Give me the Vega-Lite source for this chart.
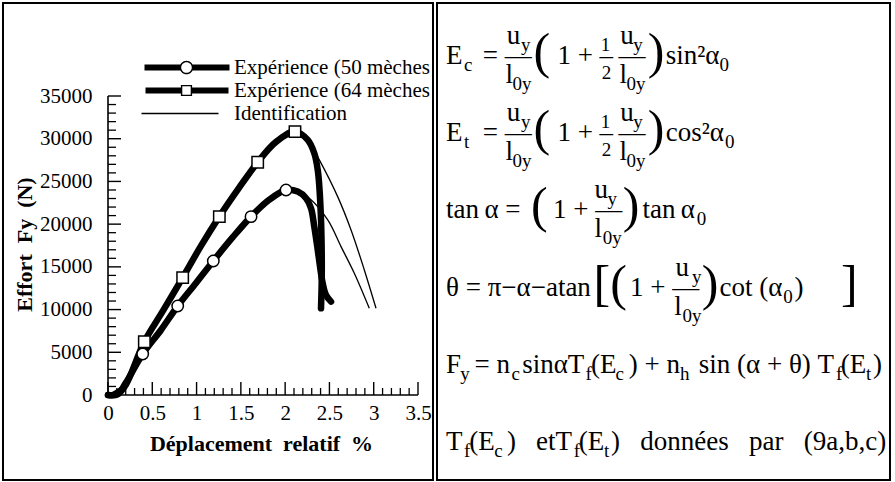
{
  "$schema": "https://vega.github.io/schema/vega-lite/v6.json",
  "background": "white",
  "padding": {"left": 2, "top": 2, "right": 0, "bottom": 0},
  "bounds": "flush",
  "spacing": 4,
  "config": {
    "view": {"stroke": "black", "strokeWidth": 2},
    "font": "Liberation Serif"
  },
  "datasets": {
    "courbes": [
      {"serie": "Expérience (64 mèches", "essai": "64", "i": 0, "depl": 0, "effort": 0},
      {"serie": "Expérience (64 mèches", "essai": "64", "i": 1, "depl": 0.11, "effort": 100},
      {"serie": "Expérience (64 mèches", "essai": "64", "i": 2, "depl": 0.2, "effort": 1170},
      {"serie": "Expérience (64 mèches", "essai": "64", "i": 3, "depl": 0.41, "effort": 6240},
      {"serie": "Expérience (64 mèches", "essai": "64", "i": 4, "depl": 0.62, "effort": 9840},
      {"serie": "Expérience (64 mèches", "essai": "64", "i": 5, "depl": 0.843, "effort": 13740},
      {"serie": "Expérience (64 mèches", "essai": "64", "i": 6, "depl": 1.05, "effort": 17450},
      {"serie": "Expérience (64 mèches", "essai": "64", "i": 7, "depl": 1.257, "effort": 20880},
      {"serie": "Expérience (64 mèches", "essai": "64", "i": 8, "depl": 1.479, "effort": 24240},
      {"serie": "Expérience (64 mèches", "essai": "64", "i": 9, "depl": 1.69, "effort": 27250},
      {"serie": "Expérience (64 mèches", "essai": "64", "i": 10, "depl": 1.897, "effort": 29630},
      {"serie": "Expérience (64 mèches", "essai": "64", "i": 11, "depl": 2.111, "effort": 30830},
      {"serie": "Expérience (64 mèches", "essai": "64", "i": 12, "depl": 2.255, "effort": 29860},
      {"serie": "Expérience (64 mèches", "essai": "64", "i": 13, "depl": 2.329, "effort": 28300},
      {"serie": "Expérience (64 mèches", "essai": "64", "i": 14, "depl": 2.368, "effort": 26350},
      {"serie": "Expérience (64 mèches", "essai": "64", "i": 15, "depl": 2.386, "effort": 24390},
      {"serie": "Expérience (64 mèches", "essai": "64", "i": 16, "depl": 2.405, "effort": 20490},
      {"serie": "Expérience (64 mèches", "essai": "64", "i": 17, "depl": 2.413, "effort": 16590},
      {"serie": "Expérience (64 mèches", "essai": "64", "i": 18, "depl": 2.413, "effort": 13470},
      {"serie": "Expérience (64 mèches", "essai": "64", "i": 19, "depl": 2.405, "effort": 10150},
      {"serie": "Expérience (50 mèches", "essai": "50", "i": 0, "depl": 0, "effort": 0},
      {"serie": "Expérience (50 mèches", "essai": "50", "i": 1, "depl": 0.11, "effort": 100},
      {"serie": "Expérience (50 mèches", "essai": "50", "i": 2, "depl": 0.2, "effort": 1400},
      {"serie": "Expérience (50 mèches", "essai": "50", "i": 3, "depl": 0.392, "effort": 4800},
      {"serie": "Expérience (50 mèches", "essai": "50", "i": 4, "depl": 0.598, "effort": 7610},
      {"serie": "Expérience (50 mèches", "essai": "50", "i": 5, "depl": 0.787, "effort": 10420},
      {"serie": "Expérience (50 mèches", "essai": "50", "i": 6, "depl": 0.994, "effort": 13115},
      {"serie": "Expérience (50 mèches", "essai": "50", "i": 7, "depl": 1.189, "effort": 15690},
      {"serie": "Expérience (50 mèches", "essai": "50", "i": 8, "depl": 1.411, "effort": 18500},
      {"serie": "Expérience (50 mèches", "essai": "50", "i": 9, "depl": 1.615, "effort": 20880},
      {"serie": "Expérience (50 mèches", "essai": "50", "i": 10, "depl": 1.818, "effort": 22830},
      {"serie": "Expérience (50 mèches", "essai": "50", "i": 11, "depl": 2.01, "effort": 24000},
      {"serie": "Expérience (50 mèches", "essai": "50", "i": 12, "depl": 2.142, "effort": 23810},
      {"serie": "Expérience (50 mèches", "essai": "50", "i": 13, "depl": 2.236, "effort": 23030},
      {"serie": "Expérience (50 mèches", "essai": "50", "i": 14, "depl": 2.292, "effort": 21860},
      {"serie": "Expérience (50 mèches", "essai": "50", "i": 15, "depl": 2.329, "effort": 19710},
      {"serie": "Expérience (50 mèches", "essai": "50", "i": 16, "depl": 2.368, "effort": 16980},
      {"serie": "Expérience (50 mèches", "essai": "50", "i": 17, "depl": 2.394, "effort": 15020},
      {"serie": "Expérience (50 mèches", "essai": "50", "i": 18, "depl": 2.424, "effort": 13080},
      {"serie": "Expérience (50 mèches", "essai": "50", "i": 19, "depl": 2.461, "effort": 11710},
      {"serie": "Expérience (50 mèches", "essai": "50", "i": 20, "depl": 2.518, "effort": 10930},
      {"serie": "Identification", "essai": "64", "i": 0, "depl": 0, "effort": 0},
      {"serie": "Identification", "essai": "64", "i": 1, "depl": 0.2, "effort": 1170},
      {"serie": "Identification", "essai": "64", "i": 2, "depl": 0.41, "effort": 6240},
      {"serie": "Identification", "essai": "64", "i": 3, "depl": 0.843, "effort": 13740},
      {"serie": "Identification", "essai": "64", "i": 4, "depl": 1.257, "effort": 20880},
      {"serie": "Identification", "essai": "64", "i": 5, "depl": 1.69, "effort": 27250},
      {"serie": "Identification", "essai": "64", "i": 6, "depl": 1.897, "effort": 29630},
      {"serie": "Identification", "essai": "64", "i": 7, "depl": 2.111, "effort": 30830},
      {"serie": "Identification", "essai": "64", "i": 8, "depl": 2.255, "effort": 29860},
      {"serie": "Identification", "essai": "64", "i": 9, "depl": 2.386, "effort": 27520},
      {"serie": "Identification", "essai": "64", "i": 10, "depl": 2.593, "effort": 23220},
      {"serie": "Identification", "essai": "64", "i": 11, "depl": 2.744, "effort": 19320},
      {"serie": "Identification", "essai": "64", "i": 12, "depl": 2.894, "effort": 14640},
      {"serie": "Identification", "essai": "64", "i": 13, "depl": 3.026, "effort": 10150},
      {"serie": "Identification", "essai": "50", "i": 0, "depl": 0, "effort": 0},
      {"serie": "Identification", "essai": "50", "i": 1, "depl": 0.2, "effort": 1400},
      {"serie": "Identification", "essai": "50", "i": 2, "depl": 0.392, "effort": 4800},
      {"serie": "Identification", "essai": "50", "i": 3, "depl": 0.787, "effort": 10420},
      {"serie": "Identification", "essai": "50", "i": 4, "depl": 1.189, "effort": 15690},
      {"serie": "Identification", "essai": "50", "i": 5, "depl": 1.615, "effort": 20880},
      {"serie": "Identification", "essai": "50", "i": 6, "depl": 2.01, "effort": 24000},
      {"serie": "Identification", "essai": "50", "i": 7, "depl": 2.142, "effort": 23810},
      {"serie": "Identification", "essai": "50", "i": 8, "depl": 2.273, "effort": 23030},
      {"serie": "Identification", "essai": "50", "i": 9, "depl": 2.481, "effort": 20490},
      {"serie": "Identification", "essai": "50", "i": 10, "depl": 2.631, "effort": 17370},
      {"serie": "Identification", "essai": "50", "i": 11, "depl": 2.781, "effort": 14250},
      {"serie": "Identification", "essai": "50", "i": 12, "depl": 2.95, "effort": 10150}
    ],
    "mesures": [
      {"essai": "50", "depl": 0.392, "effort": 4800},
      {"essai": "50", "depl": 0.787, "effort": 10420},
      {"essai": "50", "depl": 1.189, "effort": 15690},
      {"essai": "50", "depl": 1.615, "effort": 20880},
      {"essai": "50", "depl": 2.01, "effort": 24000},
      {"essai": "64", "depl": 0.41, "effort": 6240},
      {"essai": "64", "depl": 0.843, "effort": 13740},
      {"essai": "64", "depl": 1.257, "effort": 20880},
      {"essai": "64", "depl": 1.69, "effort": 27250},
      {"essai": "64", "depl": 2.111, "effort": 30830}
    ],
    "graduationsX": [
      {"depl": 0, "effort": 0}, {"depl": 0.1, "effort": 0}, {"depl": 0.2, "effort": 0}, {"depl": 0.3, "effort": 0},
      {"depl": 0.4, "effort": 0}, {"depl": 0.5, "effort": 0}, {"depl": 0.6, "effort": 0}, {"depl": 0.7, "effort": 0},
      {"depl": 0.8, "effort": 0}, {"depl": 0.9, "effort": 0}, {"depl": 1, "effort": 0}, {"depl": 1.1, "effort": 0},
      {"depl": 1.2, "effort": 0}, {"depl": 1.3, "effort": 0}, {"depl": 1.4, "effort": 0}, {"depl": 1.5, "effort": 0},
      {"depl": 1.6, "effort": 0}, {"depl": 1.7, "effort": 0}, {"depl": 1.8, "effort": 0}, {"depl": 1.9, "effort": 0},
      {"depl": 2, "effort": 0}, {"depl": 2.1, "effort": 0}, {"depl": 2.2, "effort": 0}, {"depl": 2.3, "effort": 0},
      {"depl": 2.4, "effort": 0}, {"depl": 2.5, "effort": 0}, {"depl": 2.6, "effort": 0}, {"depl": 2.7, "effort": 0},
      {"depl": 2.8, "effort": 0}, {"depl": 2.9, "effort": 0}, {"depl": 3, "effort": 0}, {"depl": 3.1, "effort": 0},
      {"depl": 3.2, "effort": 0}, {"depl": 3.3, "effort": 0}, {"depl": 3.4, "effort": 0}, {"depl": 3.5, "effort": 0}
    ],
    "graduationsY": [
      {"depl": 0, "effort": 0}, {"depl": 0, "effort": 1000}, {"depl": 0, "effort": 2000}, {"depl": 0, "effort": 3000},
      {"depl": 0, "effort": 4000}, {"depl": 0, "effort": 5000}, {"depl": 0, "effort": 6000}, {"depl": 0, "effort": 7000},
      {"depl": 0, "effort": 8000}, {"depl": 0, "effort": 9000}, {"depl": 0, "effort": 10000}, {"depl": 0, "effort": 11000},
      {"depl": 0, "effort": 12000}, {"depl": 0, "effort": 13000}, {"depl": 0, "effort": 14000}, {"depl": 0, "effort": 15000},
      {"depl": 0, "effort": 16000}, {"depl": 0, "effort": 17000}, {"depl": 0, "effort": 18000}, {"depl": 0, "effort": 19000},
      {"depl": 0, "effort": 20000}, {"depl": 0, "effort": 21000}, {"depl": 0, "effort": 22000}, {"depl": 0, "effort": 23000},
      {"depl": 0, "effort": 24000}, {"depl": 0, "effort": 25000}, {"depl": 0, "effort": 26000}, {"depl": 0, "effort": 27000},
      {"depl": 0, "effort": 28000}, {"depl": 0, "effort": 29000}, {"depl": 0, "effort": 30000}, {"depl": 0, "effort": 31000},
      {"depl": 0, "effort": 32000}, {"depl": 0, "effort": 33000}, {"depl": 0, "effort": 34000}, {"depl": 0, "effort": 35000}
    ],
    "equations": [
      {
        "n": 1,
        "principal": "E\u2002\u00a0=\u00a0\u2014\u2002\u00a0\u20091\u00a0+\u00a0\u2013\u2009\u2014\u2002\u00a0sin\u00b2\u03b1",
        "num": "\u200b\u2003\u2003\u00a0u\u2003\u2003\u2003\u2002\u2009u",
        "den": "\u200b\u2003\u2003\u2009l\u2003\u2003\u2003\u2002\u00a0\u2009l",
        "ind": "\u200b\u2002\u00a0\u2009c\u2003\u2003\u2003\u2003\u2003\u2003\u2003\u2003\u2003\u2003\u2003\u2003\u20030",
        "indNum": "\u200b\u2003\u2003\u2003\u2002\u00a0\u2009y\u2003\u2003\u2003\u2002\u20091\u2003\u2009y",
        "indDen": "\u200b\u2003\u2003\u2003\u20020y\u2003\u2003\u2003\u2003\u20030y",
        "demi": "\u200b\u2003\u2003\u2003\u2003\u2003\u2003\u2003\u2003\u20092",
        "grand": "\u200b\u2003\u2002\u00a0(\u2003\u2002\u00a0\u2009)"
      },
      {
        "n": 2,
        "principal": "E\u2002\u00a0=\u00a0\u2014\u2002\u00a0\u20091\u00a0+\u00a0\u2013\u2009\u2014\u2002\u00a0cos\u00b2\u03b1",
        "num": "\u200b\u2003\u2003\u00a0u\u2003\u2003\u2003\u2002\u2009u",
        "den": "\u200b\u2003\u2003\u2009l\u2003\u2003\u2003\u2002\u00a0\u2009l",
        "ind": "\u200b\u2002\u00a0\u2009t\u2003\u2003\u2003\u2003\u2003\u2003\u2003\u2003\u2003\u2003\u2003\u2003\u2003\u00a0\u20090",
        "indNum": "\u200b\u2003\u2003\u2003\u2002\u00a0\u2009y\u2003\u2003\u2003\u2002\u20091\u2003\u2009y",
        "indDen": "\u200b\u2003\u2003\u2003\u20020y\u2003\u2003\u2003\u2003\u20030y",
        "demi": "\u200b\u2003\u2003\u2003\u2003\u2003\u2003\u2003\u2003\u20092",
        "grand": "\u200b\u2003\u2002\u00a0(\u2003\u2002\u00a0\u2009)"
      },
      {
        "n": 3,
        "principal": "tan\u2009\u03b1\u00a0=\u2003\u20091\u00a0+\u00a0\u2014\u2002\u00a0tan\u2009\u03b1",
        "num": "\u200b\u2003\u2003\u2003\u2003\u2003\u2002u",
        "den": "\u200b\u2003\u2003\u2003\u2003\u2003\u2002l",
        "ind": "\u200b\u2003\u2003\u2003\u2003\u2003\u2003\u2003\u2003\u2003\u2003\u2003\u2003\u2003\u20090",
        "indNum": "\u200b\u2003\u2003\u2003\u2003\u2003\u2003\u2003\u2003\u2002y",
        "indDen": "\u200b\u2003\u2003\u2003\u2003\u2003\u2003\u2003\u2003\u00a00y",
        "demi": "",
        "grand": "\u200b\u2003\u2002\u2009(\u2003\u2002)"
      },
      {
        "n": 4,
        "principal": "\u03b8\u00a0=\u00a0\u03c0\u2212\u03b1\u2212atan\u2003\u00a0\u20091\u00a0+\u00a0\u2014\u2002\u00a0cot\u00a0(\u03b1\u00a0\u2009)",
        "num": "\u200b\u2003\u2003\u2003\u2003\u2003\u2003\u2003\u2003\u2002u",
        "den": "\u200b\u2003\u2003\u2003\u2003\u2003\u2003\u2003\u2003\u00a0\u2009l",
        "ind": "\u200b\u2003\u2003\u2003\u2003\u2003\u2003\u2003\u2003\u2003\u2003\u2003\u2003\u2003\u2003\u2003\u2003\u2003\u2002\u00a00",
        "indNum": "\u200b\u2003\u2003\u2003\u2003\u2003\u2003\u2003\u2003\u2003\u2003\u2003\u2003\u2002\u00a0\u2009y",
        "indDen": "\u200b\u2003\u2003\u2003\u2003\u2003\u2003\u2003\u2003\u2003\u2003\u2003\u2003\u00a0\u20090y",
        "demi": "",
        "grand": "\u200b\u2003\u2003\u2002\u00a0\u2009[(\u2003\u2002)\u2003\u2003\u00a0\u2009]"
      },
      {
        "n": 5,
        "principal": "F\u2002=\u00a0n\u00a0\u2009sin\u03b1T\u00a0(E\u00a0\u2009)\u00a0+\u00a0n\u00a0\u2009\u00a0sin\u00a0(\u03b1\u00a0+\u00a0\u03b8)\u00a0T\u00a0(E\u00a0)",
        "num": "",
        "den": "",
        "ind": "\u200b\u2002\u00a0y\u2003\u2003\u2009c\u2003\u2003\u2003\u00a0\u2009f\u2003\u00a0c\u2003\u2003\u2002\u00a0\u2009h\u2003\u2003\u2003\u2003\u2003\u2003\u2003\u2002\u2009f\u2003\u00a0t",
        "indNum": "",
        "indDen": "",
        "demi": "",
        "grand": ""
      },
      {
        "n": 6,
        "principal": "T\u00a0(E\u00a0\u2009)\u2002\u00a0etT\u00a0(E\u00a0)\u2002\u00a0donn\u00e9es\u2002\u00a0par\u2002\u00a0(9a,b,c)",
        "num": "",
        "den": "",
        "ind": "\u200b\u2002\u00a0\u2009f\u2003\u00a0c\u2003\u2003\u2003\u2002\u00a0f\u2003\u00a0t",
        "indNum": "",
        "indDen": "",
        "demi": "",
        "grand": ""
      }
    ]
  },
  "hconcat": [
    {
      "width": 430,
      "height": 477,
      "encoding": {
        "x": {
          "field": "depl",
          "type": "quantitative",
          "scale": {"domain": [0, 3.5], "range": [105, 415], "nice": false, "zero": false},
          "axis": {
            "orient": "bottom",
            "offset": -85,
            "values": [0, 0.5, 1, 1.5, 2, 2.5, 3, 3.5],
            "format": "~g",
            "labelFont": "Liberation Serif",
            "labelFontSize": 21,
            "labelColor": "black",
            "labelPadding": 7,
            "labelOverlap": false,
            "labelFlush": false,
            "ticks": false,
            "domain": false,
            "grid": false,
            "title": "Déplacement\u00a0\u00a0relatif\u00a0\u00a0%",
            "titleFont": "Liberation Serif",
            "titleFontSize": 22,
            "titleFontWeight": "bold",
            "titleColor": "black",
            "titleX": 258,
            "titleY": 55,
            "titleBaseline": "alphabetic",
            "titleAlign": "center"
          }
        },
        "y": {
          "field": "effort",
          "type": "quantitative",
          "scale": {"domain": [0, 35000], "range": [392, 93], "nice": false},
          "axis": {
            "orient": "left",
            "offset": -105,
            "values": [0, 5000, 10000, 15000, 20000, 25000, 30000, 35000],
            "format": "d",
            "labelFont": "Liberation Serif",
            "labelFontSize": 21,
            "labelColor": "black",
            "labelPadding": 16,
            "labelOverlap": false,
            "labelFlush": false,
            "ticks": false,
            "domain": false,
            "grid": false,
            "title": "Effort\u00a0\u00a0Fy\u00a0\u00a0(N)",
            "titleFont": "Liberation Serif",
            "titleFontSize": 22,
            "titleFontWeight": "bold",
            "titleColor": "black",
            "titleAngle": -90,
            "titleX": -77,
            "titleY": 241,
            "titleBaseline": "alphabetic",
            "titleAlign": "center"
          }
        }
      },
      "layer": [
        {
          "data": {"name": "graduationsX"},
          "mark": {"type": "line", "color": "black", "strokeWidth": 1.6}
        },
        {
          "data": {"name": "graduationsY"},
          "mark": {"type": "line", "color": "black", "strokeWidth": 1.6},
          "encoding": {"order": {"field": "effort", "type": "quantitative"}}
        },
        {
          "data": {"name": "graduationsX"},
          "transform": [{"filter": "round(datum.depl * 10) % 5 === 0"}],
          "mark": {"type": "tick", "orient": "vertical", "color": "black", "opacity": 1, "size": 13, "thickness": 1.4, "yOffset": -6.5}
        },
        {
          "data": {"name": "graduationsX"},
          "transform": [{"filter": "round(datum.depl * 10) % 5 !== 0"}],
          "mark": {"type": "tick", "orient": "vertical", "color": "black", "opacity": 1, "size": 7, "thickness": 1.3, "yOffset": -3.5}
        },
        {
          "data": {"name": "graduationsY"},
          "transform": [{"filter": "datum.effort % 5000 === 0"}],
          "mark": {"type": "tick", "orient": "horizontal", "color": "black", "opacity": 1, "size": 13, "thickness": 1.4, "xOffset": 6.5}
        },
        {
          "data": {"name": "graduationsY"},
          "transform": [{"filter": "datum.effort % 5000 !== 0"}],
          "mark": {"type": "tick", "orient": "horizontal", "color": "black", "opacity": 1, "size": 8, "thickness": 1.3, "xOffset": 4}
        },
        {
          "data": {"name": "courbes"},
          "transform": [{"filter": "datum.serie === 'Identification'"}],
          "mark": {"type": "line", "strokeWidth": 1.3, "color": "black", "interpolate": "catmull-rom"},
          "encoding": {
            "detail": {"field": "essai", "type": "nominal"},
            "order": {"field": "i", "type": "quantitative"}
          }
        },
        {
          "data": {"name": "courbes"},
          "transform": [{"filter": "datum.serie !== 'Identification'"}],
          "mark": {"type": "line", "strokeWidth": 6.5, "color": "black", "strokeCap": "round", "strokeJoin": "round", "interpolate": "catmull-rom"},
          "encoding": {
            "detail": {"field": "serie", "type": "nominal"},
            "order": {"field": "i", "type": "quantitative"}
          }
        },
        {
          "data": {"name": "mesures"},
          "mark": {"type": "point", "filled": true, "fill": "white", "stroke": "black", "strokeWidth": 1.5, "size": 130, "opacity": 1},
          "encoding": {
            "shape": {"field": "essai", "type": "nominal", "scale": {"domain": ["50", "64"], "range": ["circle", "square"]}, "legend": null}
          }
        },
        {
          "data": {"name": "courbes"},
          "transform": [{"filter": "false"}],
          "mark": {"type": "point", "filled": true, "color": "black", "opacity": 1, "strokeWidth": 0},
          "encoding": {
            "shape": {
              "field": "serie",
              "type": "nominal",
              "scale": {
                "domain": ["Expérience (50 mèches", "Expérience (64 mèches", "Identification"],
                "range": [
                  "M-4.2,-0.3H-0.6V0.3H-4.2Z M0.6,-0.3H4.3V0.3H0.6Z M0.68,0A0.68,0.68,0,1,1,-0.68,0A0.68,0.68,0,1,1,0.68,0Z M0.53,0A0.53,0.53,0,1,0,-0.53,0A0.53,0.53,0,1,0,0.53,0Z",
                  "M-4.1,-0.3H-0.5V0.3H-4.1Z M0.5,-0.3H4.2V0.3H0.5Z M-0.56,-0.56H0.56V0.56H-0.56Z M-0.42,-0.42V0.42H0.42V-0.42Z",
                  "M-4.5,-0.065H3.2V0.065H-4.5Z"
                ]
              },
              "legend": {
                "title": null,
                "orient": "none",
                "legendX": 173,
                "legendY": 54,
                "padding": 0,
                "symbolSize": 400,
                "symbolFillColor": "black",
                "symbolStrokeWidth": 0,
                "symbolOpacity": 1,
                "labelOffset": 37,
                "rowPadding": 1,
                "labelFont": "Liberation Serif",
                "labelFontSize": 21,
                "labelColor": "black",
                "labelLimit": 400
              }
            }
          }
        }
      ],
      "resolve": {"scale": {"shape": "independent"}, "legend": {"shape": "independent"}}
    },
    {
      "width": 453,
      "height": 477,
      "data": {"name": "equations"},
      "encoding": {
        "x": {"value": 9},
        "y": {"field": "n", "type": "ordinal", "axis": null, "scale": {"type": "point", "range": [61, 447], "padding": 0}}
      },
      "layer": [
        {"mark": {"type": "text", "align": "left", "baseline": "alphabetic", "font": "Liberation Serif", "fontSize": 27, "color": "black"}, "encoding": {"text": {"field": "principal", "type": "nominal"}}},
        {"mark": {"type": "text", "align": "left", "baseline": "alphabetic", "font": "Liberation Serif", "fontSize": 27, "color": "black", "dy": -20}, "encoding": {"text": {"field": "num", "type": "nominal"}}},
        {"mark": {"type": "text", "align": "left", "baseline": "alphabetic", "font": "Liberation Serif", "fontSize": 27, "color": "black", "dy": 19}, "encoding": {"text": {"field": "den", "type": "nominal"}}},
        {"mark": {"type": "text", "align": "left", "baseline": "alphabetic", "font": "Liberation Serif", "fontSize": 19, "color": "black", "dy": 7}, "encoding": {"text": {"field": "ind", "type": "nominal"}}},
        {"mark": {"type": "text", "align": "left", "baseline": "alphabetic", "font": "Liberation Serif", "fontSize": 19, "color": "black", "dy": -13}, "encoding": {"text": {"field": "indNum", "type": "nominal"}}},
        {"mark": {"type": "text", "align": "left", "baseline": "alphabetic", "font": "Liberation Serif", "fontSize": 19, "color": "black", "dy": 26}, "encoding": {"text": {"field": "indDen", "type": "nominal"}}},
        {"mark": {"type": "text", "align": "left", "baseline": "alphabetic", "font": "Liberation Serif", "fontSize": 19, "color": "black", "dy": 15}, "encoding": {"text": {"field": "demi", "type": "nominal"}}},
        {"mark": {"type": "text", "align": "left", "baseline": "alphabetic", "font": "Liberation Serif", "fontSize": 50, "color": "black", "dy": 4}, "encoding": {"text": {"field": "grand", "type": "nominal"}}}
      ]
    }
  ]
}
